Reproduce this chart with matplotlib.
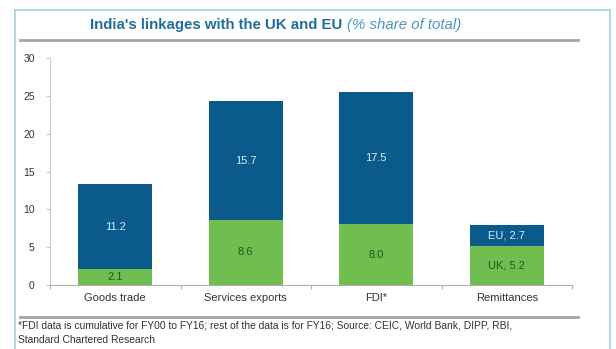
import numpy as np
import matplotlib.pyplot as plt
from matplotlib.lines import Line2D

plt.rcParams['font.family'] = ['Liberation Sans', 'DejaVu Sans']

categories = ['Goods trade', 'Services exports', 'FDI*', 'Remittances']
uk_share = [2.1, 8.6, 8.0, 5.2]
eu_share = [11.2, 15.7, 17.5, 2.7]
uk_labels = ['2.1', '8.6', '8.0', 'UK, 5.2']
eu_labels = ['11.2', '15.7', '17.5', 'EU, 2.7']
yticks = [0, 5, 10, 15, 20, 25, 30]

blue = '#0b5a8c'
green = '#70be50'
W, H = 616, 349

fig = plt.figure(figsize=(W / 100, H / 100), dpi=100)
fig.patch.set_facecolor('white')
ax = fig.add_axes([50 / W, 1 - 285 / H, 522 / W, 227 / H])

x = np.arange(len(categories))
bw = 0.57
ax.bar(x, uk_share, bw, color=green, zorder=2)
ax.bar(x, eu_share, bw, bottom=uk_share, color=blue, zorder=2)

for i in range(len(categories)):
    ax.text(x[i], uk_share[i] / 2, uk_labels[i], ha='center', va='center',
            fontsize=8, color='#1d5a1d')
    ax.text(x[i], uk_share[i] + eu_share[i] / 2, eu_labels[i], ha='center',
            va='center', fontsize=8, color='#d6ebf7')

ax.set_xlim(-0.5, 3.5)
ax.set_ylim(0, 30)
ax.set_yticks(yticks)
ax.set_yticklabels([str(t) for t in yticks], fontsize=7.5, color='#333333')
ax.set_xticks(np.arange(-0.5, 4, 1.0))
ax.set_xticklabels([])
ax.set_xticks(x, minor=True)
ax.set_xticklabels(categories, minor=True, fontsize=8, color='#333333')
ax.tick_params(axis='x', which='minor', length=0, pad=6)
ax.tick_params(axis='x', which='major', length=3, color='#b0b0b0')
ax.tick_params(axis='y', length=3, color='#c8c8c8', pad=8)
for s in ['top', 'right']:
    ax.spines[s].set_visible(False)
ax.spines['left'].set_color('#cccccc')
ax.spines['bottom'].set_color('#b0b0b0')

# frame and rules
def px_line(x0, y0, x1, y1, **kw):
    fig.add_artist(Line2D([x0 / W, x1 / W], [1 - y0 / H, 1 - y1 / H],
                          transform=fig.transFigure, **kw))

frame = '#9fd3dc'
px_line(15, 10, 610, 10, color=frame, lw=1.2)
px_line(15, 10, 15, H, color=frame, lw=1.2)
px_line(610, 10, 610, H, color=frame, lw=1.2)
px_line(20, 40, 578, 40, color='#a5a5a5', lw=2)
px_line(20, 317, 578, 317, color='#a5a5a5', lw=2)

# title in two styles
t1 = fig.text(90 / W, 1 - 25 / H, "India's linkages with the UK and EU",
              fontsize=10.8, fontweight='bold', color='#1f6e9c',
              ha='left', va='center')
fig.canvas.draw()
bb = t1.get_window_extent()
fig.text((bb.x1 + 5) / W, 1 - 25 / H, '(% share of total)', fontsize=10.8,
         style='italic', color='#4a95c4', ha='left', va='center')

fig.text(18 / W, 1 - 326 / H,
         '*FDI data is cumulative for FY00 to FY16; rest of the data is for FY16; '
         'Source: CEIC, World Bank, DIPP, RBI,',
         fontsize=7.4, color='#333333', ha='left', va='center')
fig.text(18 / W, 1 - 340 / H, 'Standard Chartered Research',
         fontsize=7.4, color='#333333', ha='left', va='center')

fig.savefig('out.png', dpi=100)
